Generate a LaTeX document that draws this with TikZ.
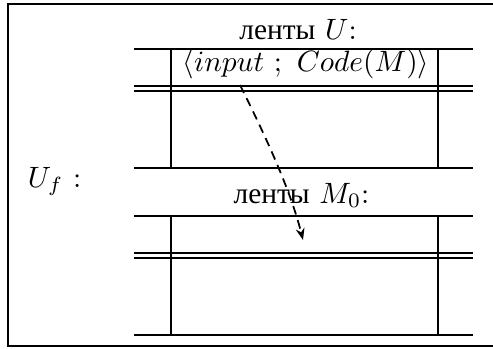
\documentclass[tikz,border=0pt]{standalone}
\usepackage{fontspec}
\newfontfamily\cyr{Liberation Serif}
\usetikzlibrary{arrows.meta}
\begin{document}
\begin{tikzpicture}[x=0.34pt,y=-0.34pt,line width=0.65pt,
  lbl/.style={inner sep=0pt,anchor=base},
  flow/.style={line width=0.6pt,dash pattern=on 3pt off 2pt,-{Stealth[length=4pt,width=3pt]}}]
\useasboundingbox (0,0) rectangle (493,348);
% outer frame (open at the right)
\draw (500,4) -- (8,4) -- (8,346) -- (500,346);
% tapes
\foreach \y in {49.3,85.7,91,167.7,215.7,252.7,258.3,334.7}
  \draw (134,\y) -- (473,\y);
\foreach \x in {170.7,438.3}{
  \draw (\x,49.3) -- (\x,167.7);
  \draw (\x,215.7) -- (\x,334.7);
}
\node[lbl] (t1) at (298,39) {{\cyr ленты} $U$:};
\node[lbl] (inp) at (306,71) {$\langle input\ ;\ Code(M)\rangle$};
\node[lbl] (t2) at (301.5,203) {{\cyr ленты} $M_0$:};
\node[lbl,anchor=base west] (uf) at (27,187) {$U_f$ :};
\coordinate (s) at (240,85);
\coordinate (e) at (303,240);
\draw[flow] (s) .. controls (265,135) and (290.5,190) .. (e);
\end{tikzpicture}
\end{document}
